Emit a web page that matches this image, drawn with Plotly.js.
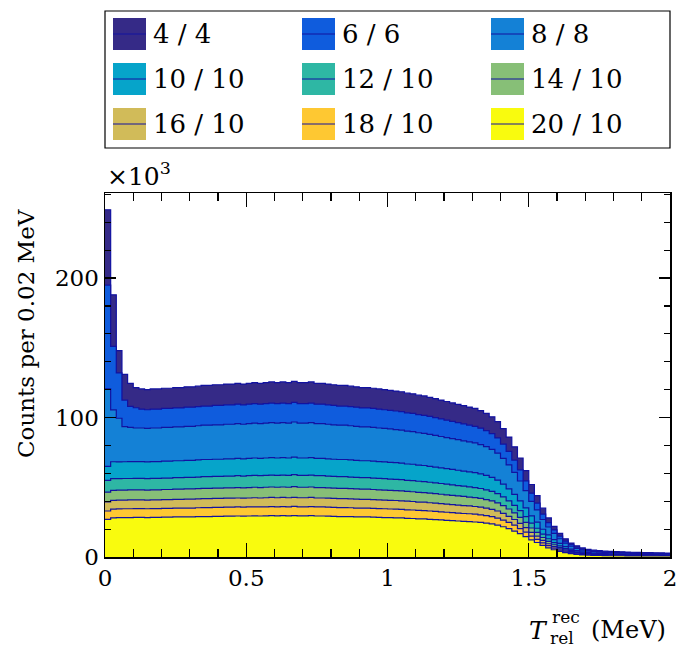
<!DOCTYPE html>
<html>
<head>
<meta charset="utf-8">
<script src="https://cdn.plot.ly/plotly-3.0.1.min.js"></script>
<style>html,body{margin:0;padding:0;background:#fff;}#chart{width:681px;height:650px;}</style>
</head>
<body>
<div id="chart"></div>
<script>
// Histogram binning: 100 bins of 0.02 MeV from 0 to 2 MeV
const binLow = 0.0;
const binWidth = 0.02;

// Series labels (legend order)
const seriesLabels = ["4 / 4", "6 / 6", "8 / 8", "10 / 10", "12 / 10", "14 / 10", "16 / 10", "18 / 10", "20 / 10"];
const seriesColors = ["#352a87", "#0f5cdd", "#1481d6", "#06a4ca", "#2eb7a4", "#87bf77", "#d1bb59", "#fec832", "#f9fb0e"];

// Counts per bin, in units of 10^3
const counts_4_4 = [249,188,148,131,124.5,121.5,120.5,120,120.5,120.5,
121,121,121.5,121.5,122,122,122.5,123,123,123.5,
123.5,124,124,124.5,124,124.5,125,124.5,125,125.5,
125,125.5,125,126,125,125,125.5,124.5,124.5,124,
123.5,123,123,122.5,122,121.5,121.5,121,120.5,120,
119.5,119,118.5,117.5,117,116,115.5,114.5,113.5,112.5,
111.5,110.5,109.5,108.5,107.5,106.5,105,103,100.5,97,
92,86,79,71,62,52,44,35,28,22,
17,13,10,8,6.5,5.5,5,4.5,4.2,4,
3.8,3.7,3.5,3.4,3.3,3.2,3.1,3,2.9,2.8];

const counts_6_6 = [195,151,132,112.5,108,107,106.0,105.6,106.0,106.0,
106.5,106.5,106.9,106.9,107.4,107.4,107.8,108.2,108.2,108.7,
108.7,109.1,109.1,109.6,109.1,109.6,110.0,109.6,110.0,110.4,
110.0,110.4,110.0,110.9,110.0,110.0,110.4,109.6,109.6,109.1,
108.7,108.2,108.2,107.8,107.4,106.9,106.9,106.5,106.0,105.6,
105.2,104.7,104.3,103.4,103.0,102.1,101.6,100.8,99.9,99.0,
98.1,97.2,96.4,95.5,94.6,93.7,92.4,90.6,88.4,85.4,
81.0,75.7,69.5,62.5,54.6,45.8,38.7,30.8,24.6,19.4,
15.0,11.4,8.8,7.0,5.7,4.8,4.4,4.0,3.7,3.5,
3.3,3.3,3.1,3.0,2.9,2.8,2.7,2.6,2.6,2.5];

const counts_8_8 = [120.5,105.5,99.5,93.5,93,92.5,92.5,92.2,92.5,92.5,
92.9,92.9,93.3,93.3,93.7,93.7,94.1,94.5,94.5,94.8,
94.8,95.2,95.2,95.6,95.2,95.6,96.0,95.6,96.0,96.4,
96.0,96.4,96.0,96.8,96.0,96.0,96.4,95.6,95.6,95.2,
94.8,94.5,94.5,94.1,93.7,93.3,93.3,92.9,92.5,92.2,
91.8,91.4,91.0,90.2,89.9,89.1,88.7,87.9,87.2,86.4,
85.6,84.9,84.1,83.3,82.6,81.8,80.6,79.1,77.2,74.5,
70.7,66.0,60.7,54.5,47.6,39.9,33.8,26.9,21.5,16.9,
13.1,10.0,7.7,6.1,5.0,4.2,3.8,3.5,3.2,3.1,
2.9,2.8,2.7,2.6,2.5,2.5,2.4,2.3,2.2,2.2];

const counts_10_10 = [65,68.3,68.2,68.3,68.4,68.4,68.4,68.2,68.4,68.4,
68.7,68.7,69.0,69.0,69.3,69.3,69.6,69.9,69.9,70.1,
70.1,70.4,70.4,70.7,70.4,70.7,71.0,70.7,71.0,71.3,
71.0,71.3,71.0,71.6,71.0,71.0,71.3,70.7,70.7,70.4,
70.1,69.9,69.9,69.6,69.3,69.0,69.0,68.7,68.4,68.2,
67.9,67.6,67.3,66.7,66.5,65.9,65.6,65.0,64.5,63.9,
63.3,62.8,62.2,61.6,61.1,60.5,59.6,58.5,57.1,55.1,
52.3,48.8,44.9,40.3,35.2,29.5,25.0,19.9,15.9,12.5,
9.7,7.4,5.7,4.5,3.7,3.1,2.8,2.6,2.4,2.3,
2.2,2.1,2.0,1.9,1.9,1.8,1.8,1.7,1.6,1.6];

const counts_12_10 = [55,56.2,56.2,56.3,56.3,56.4,56.4,56.2,56.4,56.4,
56.6,56.6,56.9,56.9,57.1,57.1,57.3,57.6,57.6,57.8,
57.8,58.0,58.0,58.3,58.0,58.3,58.5,58.3,58.5,58.7,
58.5,58.7,58.5,59.0,58.5,58.5,58.7,58.3,58.3,58.0,
57.8,57.6,57.6,57.3,57.1,56.9,56.9,56.6,56.4,56.2,
55.9,55.7,55.5,55.0,54.8,54.3,54.1,53.6,53.1,52.7,
52.2,51.7,51.2,50.8,50.3,49.8,49.1,48.2,47.0,45.4,
43.1,40.2,37.0,33.2,29.0,24.3,20.6,16.4,13.1,10.3,
8.0,6.1,4.7,3.7,3.0,2.6,2.3,2.1,2.0,1.9,
1.8,1.7,1.6,1.6,1.5,1.5,1.5,1.4,1.4,1.3];

const counts_14_10 = [46.5,47.8,48.0,48.0,48.1,48.2,48.2,48.0,48.2,48.2,
48.4,48.4,48.6,48.6,48.8,48.8,49.0,49.2,49.2,49.4,
49.4,49.6,49.6,49.8,49.6,49.8,50.0,49.8,50.0,50.2,
50.0,50.2,50.0,50.4,50.0,50.0,50.2,49.8,49.8,49.6,
49.4,49.2,49.2,49.0,48.8,48.6,48.6,48.4,48.2,48.0,
47.8,47.6,47.4,47.0,46.8,46.4,46.2,45.8,45.4,45.0,
44.6,44.2,43.8,43.4,43.0,42.6,42.0,41.2,40.2,38.8,
36.8,34.4,31.6,28.4,24.8,20.8,17.6,14.0,11.2,8.8,
6.8,5.2,4.0,3.2,2.6,2.2,2.0,1.8,1.7,1.6,
1.5,1.5,1.4,1.4,1.3,1.3,1.2,1.2,1.2,1.1];

const counts_16_10 = [39.5,40.6,40.8,40.8,40.9,41.0,41.0,40.8,41.0,41.0,
41.1,41.1,41.3,41.3,41.5,41.5,41.7,41.8,41.8,42.0,
42.0,42.2,42.2,42.3,42.2,42.3,42.5,42.3,42.5,42.7,
42.5,42.7,42.5,42.8,42.5,42.5,42.7,42.3,42.3,42.2,
42.0,41.8,41.8,41.7,41.5,41.3,41.3,41.1,41.0,40.8,
40.6,40.5,40.3,40.0,39.8,39.4,39.3,38.9,38.6,38.3,
37.9,37.6,37.2,36.9,36.6,36.2,35.7,35.0,34.2,33.0,
31.3,29.2,26.9,24.1,21.1,17.7,15.0,11.9,9.5,7.5,
5.8,4.4,3.4,2.7,2.2,1.9,1.7,1.5,1.4,1.4,
1.3,1.3,1.2,1.2,1.1,1.1,1.1,1.0,1.0,1.0];

const counts_18_10 = [33.0,34.3,34.5,34.6,34.6,34.7,34.7,34.6,34.7,34.7,
34.8,34.8,35.0,35.0,35.1,35.1,35.3,35.4,35.4,35.6,
35.6,35.7,35.7,35.9,35.7,35.9,36.0,35.9,36.0,36.1,
36.0,36.1,36.0,36.3,36.0,36.0,36.1,35.9,35.9,35.7,
35.6,35.4,35.4,35.3,35.1,35.0,35.0,34.8,34.7,34.6,
34.4,34.3,34.1,33.8,33.7,33.4,33.3,33.0,32.7,32.4,
32.1,31.8,31.5,31.2,31.0,30.7,30.2,29.7,28.9,27.9,
26.5,24.8,22.8,20.4,17.9,15.0,12.7,10.1,8.1,6.3,
4.9,3.7,2.9,2.3,1.9,1.6,1.4,1.3,1.2,1.2,
1.1,1.1,1.0,1.0,1.0,0.9,0.9,0.9,0.8,0.8];

const counts_20_10 = [27.0,28.0,28.2,28.3,28.3,28.4,28.4,28.3,28.4,28.4,
28.6,28.6,28.7,28.7,28.8,28.8,28.9,29.0,29.0,29.1,
29.1,29.3,29.3,29.4,29.3,29.4,29.5,29.4,29.5,29.6,
29.5,29.6,29.5,29.7,29.5,29.5,29.6,29.4,29.4,29.3,
29.1,29.0,29.0,28.9,28.8,28.7,28.7,28.6,28.4,28.3,
28.2,28.1,28.0,27.7,27.6,27.4,27.3,27.0,26.8,26.6,
26.3,26.1,25.8,25.6,25.4,25.1,24.8,24.3,23.7,22.9,
21.7,20.3,18.6,16.8,14.6,12.3,10.4,8.3,6.6,5.2,
4.0,3.1,2.4,1.9,1.5,1.3,1.2,1.1,1.0,0.9,
0.9,0.9,0.8,0.8,0.8,0.8,0.7,0.7,0.7,0.7];

const seriesCounts = [counts_4_4, counts_6_6, counts_8_8, counts_10_10, counts_12_10,
                      counts_14_10, counts_16_10, counts_18_10, counts_20_10];

// ---- Build step traces from the bin contents ----
const FONT = "DejaVu Serif";
const LINE_COL = "rgb(18,18,160)";

function stepTrace(vals, color, name) {
  const xs = [], ys = [];
  for (let i = 0; i < vals.length; i++) { xs.push(binLow + i * binWidth); ys.push(vals[i]); }
  xs.push(binLow + vals.length * binWidth); ys.push(vals[vals.length - 1]);
  return {
    type: "scatter", mode: "lines", x: xs, y: ys, name: name,
    line: {shape: "hv", color: LINE_COL, width: 1.2},
    fill: "tozeroy", fillcolor: color, showlegend: false, hoverinfo: "skip"
  };
}
const traces = seriesCounts.map((c, k) => stepTrace(c, seriesColors[k], seriesLabels[k]));

// ---- Layout geometry (pixels) ----
const W = 681, H = 650;
const PL = 105, PR = 670, PT = 193, PB = 557;
const px2x = p => (p - PL) / (PR - PL);
const py2y = p => (PB - p) / (PB - PT);

const shapes = [];
const annotations = [];

// Legend box
shapes.push({type: "rect", xref: "paper", yref: "paper",
  x0: px2x(105), x1: px2x(670), y0: py2y(148), y1: py2y(11),
  line: {color: "black", width: 1.2}, fillcolor: "white", layer: "above"});
const colX = [113, 302, 491];
const rowY = [34, 79, 124];
seriesLabels.forEach((lab, k) => {
  const cx = colX[k % 3], cy = rowY[Math.floor(k / 3)];
  shapes.push({type: "rect", xref: "paper", yref: "paper",
    x0: px2x(cx), x1: px2x(cx + 33), y0: py2y(cy + 16), y1: py2y(cy - 16),
    line: {width: 0}, fillcolor: seriesColors[k], layer: "above"});
  shapes.push({type: "line", xref: "paper", yref: "paper",
    x0: px2x(cx), x1: px2x(cx + 33), y0: py2y(cy), y1: py2y(cy),
    line: {color: LINE_COL, width: 1.2}, layer: "above"});
  annotations.push({xref: "paper", yref: "paper", x: px2x(cx + 38), y: py2y(cy),
    xanchor: "left", yanchor: "middle", showarrow: false, text: lab,
    font: {family: FONT, size: 26, color: "black"}});
});

// x10^3 multiplier
annotations.push({xref: "paper", yref: "paper", x: px2x(105), y: py2y(175),
  xanchor: "left", yanchor: "middle", showarrow: false, text: "×10<sup>3</sup>",
  font: {family: FONT, size: 25, color: "black"}});

// y title
annotations.push({xref: "paper", yref: "paper", x: px2x(26), y: py2y(334),
  xanchor: "center", yanchor: "middle", showarrow: false, textangle: -90,
  text: "Counts per 0.02 MeV", font: {family: FONT, size: 23, color: "black"}});

// x title: T_rel^rec (MeV)
annotations.push({xref: "paper", yref: "paper", x: px2x(668), y: py2y(630),
  xanchor: "right", yanchor: "middle", showarrow: false, text: "(MeV)",
  font: {family: FONT, size: 24, color: "black"}});
annotations.push({xref: "paper", yref: "paper", x: px2x(550), y: py2y(630),
  xanchor: "right", yanchor: "middle", showarrow: false, text: "<i>T</i>",
  font: {family: FONT, size: 25, color: "black"}});
annotations.push({xref: "paper", yref: "paper", x: px2x(550), y: py2y(617),
  xanchor: "left", yanchor: "middle", showarrow: false, text: "rec",
  font: {family: FONT, size: 17, color: "black"}});
annotations.push({xref: "paper", yref: "paper", x: px2x(548), y: py2y(638),
  xanchor: "left", yanchor: "middle", showarrow: false, text: "rel",
  font: {family: FONT, size: 17, color: "black"}});

const layout = {
  width: W, height: H,
  margin: {l: PL, r: W - PR, t: PT, b: H - PB, pad: 0},
  paper_bgcolor: "white", plot_bgcolor: "white",
  showlegend: false,
  xaxis: {
    range: [0, 2], tickmode: "linear", tick0: 0, dtick: 0.5,
    ticks: "inside", ticklen: 14, tickwidth: 1.3, tickcolor: "black",
    showline: true, linecolor: "black", linewidth: 1.5, mirror: "ticks",
    showgrid: false, zeroline: false,
    minor: {tick0: 0, dtick: 0.1, ticks: "inside", ticklen: 8, tickwidth: 1.1, tickcolor: "black", showgrid: false},
    tickfont: {family: FONT, size: 23, color: "black"}
  },
  yaxis: {
    range: [0, 261], tickmode: "linear", tick0: 0, dtick: 100,
    ticks: "inside", ticklen: 11, tickwidth: 1.3, tickcolor: "black",
    showline: true, linecolor: "black", linewidth: 1.5, mirror: "ticks",
    showgrid: false, zeroline: false,
    minor: {tick0: 0, dtick: 20, ticks: "inside", ticklen: 6, tickwidth: 1.1, tickcolor: "black", showgrid: false},
    tickfont: {family: FONT, size: 23, color: "black"}
  },
  shapes: shapes,
  annotations: annotations
};

Plotly.newPlot("chart", traces, layout, {staticPlot: true, displayModeBar: false});
</script>
</body>
</html>
